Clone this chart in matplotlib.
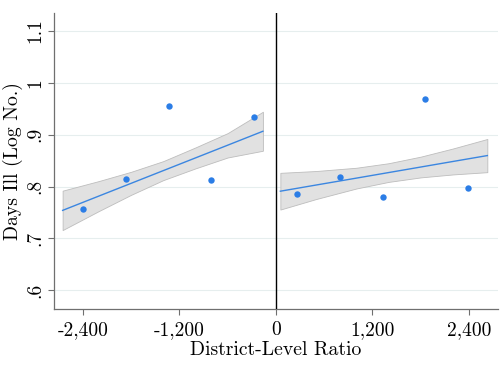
import matplotlib
matplotlib.use("Agg")
import matplotlib.pyplot as plt

plt.rcParams["font.family"] = ["cmr10", "DejaVu Serif"]
plt.rcParams["axes.formatter.use_mathtext"] = True

# binned means, left (below cutoff) and right (above cutoff)
LEFT_X = [-2395, -1865, -1334, -803, -269]
LEFT_Y = [0.757, 0.814, 0.955, 0.813, 0.935]
RIGHT_X = [266, 796, 1327, 1858, 2388]
RIGHT_Y = [0.786, 0.819, 0.779, 0.968, 0.797]

# linear fit with 95% CI
LEFT_BAND_X = [-2652, -2200, -1800, -1400, -1000, -600, -162]
LEFT_FIT = [0.754, 0.7817, 0.8062, 0.8307, 0.8552, 0.8797, 0.9066]
LEFT_LO = [0.716, 0.7528, 0.784, 0.8124, 0.835, 0.856, 0.869]
LEFT_HI = [0.792, 0.8106, 0.8284, 0.849, 0.8754, 0.903, 0.9442]

RIGHT_BAND_X = [55, 500, 1000, 1400, 1800, 2200, 2628]
RIGHT_FIT = [0.791, 0.8029, 0.8162, 0.8269, 0.8376, 0.8483, 0.8597]
RIGHT_LO = [0.7556, 0.7759, 0.7962, 0.8089, 0.8176, 0.8233, 0.8277]
RIGHT_HI = [0.8264, 0.8299, 0.8362, 0.8449, 0.8576, 0.8733, 0.8917]

XTICKS = [-2400, -1200, 0, 1200, 2400]
XTICKLABELS = ["-2,400", "-1,200", "0", "1,200", "2,400"]
YTICKS = [0.6, 0.7, 0.8, 0.9, 1.0, 1.1]
YTICKLABELS = [".6", ".7", ".8", ".9", "1", "1.1"]

DOT = "#2b7de6"
LINE = "#3b86e0"

fig = plt.figure(figsize=(5.04, 3.66), dpi=100)
ax = fig.add_axes([0.107, 0.156, 0.881, 0.809])

for bx, fit, lo, hi in [(LEFT_BAND_X, LEFT_FIT, LEFT_LO, LEFT_HI),
                        (RIGHT_BAND_X, RIGHT_FIT, RIGHT_LO, RIGHT_HI)]:
    ax.fill_between(bx, lo, hi, facecolor="#e1e1e1", edgecolor="#bdbdbd",
                    linewidth=0.6, zorder=2)
    ax.plot(bx, fit, color=LINE, linewidth=1.0, zorder=3)

ax.plot(LEFT_X, LEFT_Y, "o", color=DOT, markersize=4.6, markeredgewidth=0, zorder=4)
ax.plot(RIGHT_X, RIGHT_Y, "o", color=DOT, markersize=4.6, markeredgewidth=0, zorder=4)

ax.axvline(0, color="black", linewidth=1.0, zorder=5)

ax.set_xlim(-2760, 2760)
ax.set_ylim(0.564, 1.135)
ax.set_xticks(XTICKS)
ax.set_xticklabels(XTICKLABELS)
ax.set_yticks(YTICKS)
ax.set_yticklabels(YTICKLABELS, rotation=90, va="center")
ax.yaxis.grid(True, color="#e6eeee", linewidth=0.8, zorder=0)
ax.set_axisbelow(True)

for side in ["top", "right"]:
    ax.spines[side].set_visible(False)
for side in ["left", "bottom"]:
    ax.spines[side].set_color("#6f6f6f")
    ax.spines[side].set_linewidth(0.9)

ax.tick_params(axis="both", colors="#6f6f6f", labelcolor="black",
               length=4, width=0.8, labelsize=14)
ax.tick_params(axis="y", pad=3)
ax.tick_params(axis="x", pad=5)

ax.set_xlabel("District-Level Ratio", fontsize=14.2, labelpad=1)
ax.set_ylabel("Days Ill (Log No.)", fontsize=14.2)
ax.yaxis.set_label_coords(-0.07, 0.5)

fig.savefig("out.png", dpi=100)
